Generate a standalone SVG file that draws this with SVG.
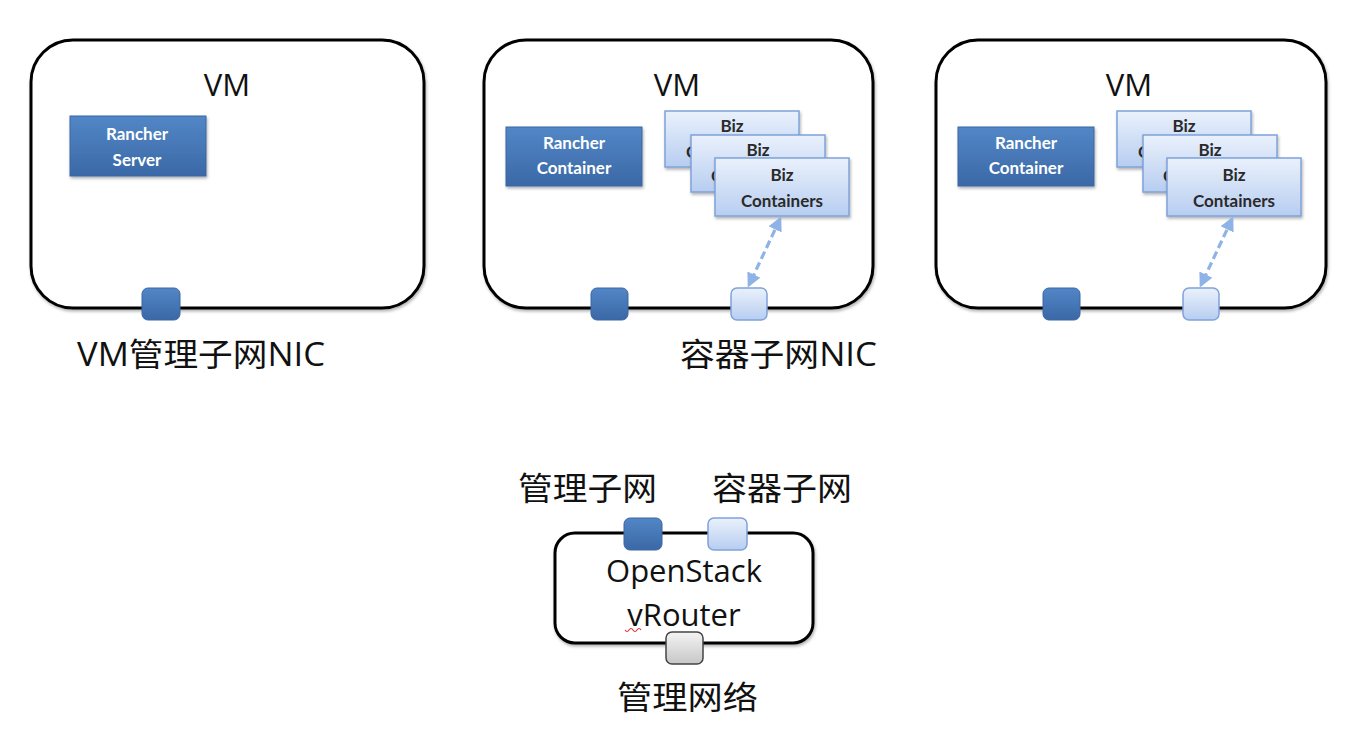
<svg xmlns="http://www.w3.org/2000/svg" width="1372" height="744" viewBox="0 0 1372 744">
<defs>
  <linearGradient id="gDark" x1="0" y1="0" x2="0" y2="1">
    <stop offset="0" stop-color="#5286c6"/>
    <stop offset="1" stop-color="#3b68a6"/>
  </linearGradient>
  <linearGradient id="gLight" x1="0" y1="0" x2="0" y2="1">
    <stop offset="0" stop-color="#eaf1fc"/>
    <stop offset="1" stop-color="#b7cdf0"/>
  </linearGradient>
  <linearGradient id="gGray" x1="0" y1="0" x2="0" y2="1">
    <stop offset="0" stop-color="#f4f4f4"/>
    <stop offset="1" stop-color="#c6c6c6"/>
  </linearGradient>
  <filter id="sh" x="-10%" y="-10%" width="130%" height="140%">
    <feDropShadow dx="1" dy="2" stdDeviation="1.5" flood-color="#000" flood-opacity="0.3"/>
  </filter>
  <marker id="ah" viewBox="0 0 10 10" refX="8" refY="5" markerWidth="4.5" markerHeight="4.5" orient="auto-start-reverse">
    <path d="M0,0 L10,5 L0,10 z" fill="#8fb3e6"/>
  </marker>
</defs>
<style>
  .vm { fill: #fff; stroke: #000; stroke-width: 3; }
  .dark { fill: url(#gDark); stroke: #3a66a3; stroke-width: 1; }
  .light { fill: url(#gLight); stroke: #7ea3da; stroke-width: 1.5; }
  .gray { fill: url(#gGray); stroke: #444; stroke-width: 1.5; }
  .big { font-family: "Open Sans", "Noto Sans CJK SC", sans-serif; font-size: 31px; fill: #111; }
  .cjk { font-family: "Open Sans", "Noto Sans CJK SC", sans-serif; font-size: 32px; fill: #111; }
  .wt { font-family: Lato, "Open Sans", sans-serif; font-size: 17px; fill: #fff; font-weight: bold; }
  .bt { font-family: Lato, "Open Sans", sans-serif; font-size: 17px; fill: #2a2a2a; font-weight: bold; }
  .conn { stroke: #8fb3e6; stroke-width: 3.2; stroke-dasharray: 8 4; fill: none; }
</style>

<g id="vm1">
  <rect class="vm" x="31" y="40" width="393" height="268" rx="42" filter="url(#sh)"/>
  <text class="big" x="227" y="96" text-anchor="middle">VM</text>
  <g id="rancher-server">
    <rect class="dark" x="70" y="116" width="136" height="60" filter="url(#sh)"/>
    <text class="wt" x="137" y="140" text-anchor="middle">Rancher</text>
    <text class="wt" x="137" y="166" text-anchor="middle">Server</text>
  </g>
  <rect id="vm1-nic" class="dark" x="142" y="288" width="38" height="32" rx="6"/>
</g>

<g id="vm2">
  <rect class="vm" x="484" y="40" width="389" height="268" rx="42" filter="url(#sh)"/>
  <text class="big" x="677" y="96" text-anchor="middle">VM</text>
  <g id="vm2-rancher">
    <rect class="dark" x="506" y="127" width="136" height="59" filter="url(#sh)"/>
    <text class="wt" x="574" y="149" text-anchor="middle">Rancher</text>
    <text class="wt" x="574" y="174" text-anchor="middle">Container</text>
  </g>
  <g id="vm2-biz">
    <rect class="light" x="665" y="111" width="134" height="56" filter="url(#sh)"/>
    <text class="bt" x="732" y="132" text-anchor="middle">Biz</text>
    <text class="bt" x="686" y="158">C</text>
    <rect class="light" x="691" y="135" width="134" height="57" filter="url(#sh)"/>
    <text class="bt" x="758" y="156" text-anchor="middle">Biz</text>
    <text class="bt" x="711" y="182">C</text>
    <rect class="light" x="715" y="158" width="134" height="58" filter="url(#sh)"/>
    <text class="bt" x="782" y="181" text-anchor="middle">Biz</text>
    <text class="bt" x="782" y="207" text-anchor="middle">Containers</text>
  </g>
  <rect id="vm2-nic-mgmt" class="dark" x="591" y="288" width="37" height="32" rx="6"/>
  <rect id="vm2-nic-ctr" class="light" x="731" y="288" width="36" height="32" rx="6"/>
</g>

<g id="vm3">
  <rect class="vm" x="936" y="40" width="390" height="268" rx="42" filter="url(#sh)"/>
  <text class="big" x="1129" y="96" text-anchor="middle">VM</text>
  <g id="vm3-rancher">
    <rect class="dark" x="958" y="127" width="136" height="59" filter="url(#sh)"/>
    <text class="wt" x="1026" y="149" text-anchor="middle">Rancher</text>
    <text class="wt" x="1026" y="174" text-anchor="middle">Container</text>
  </g>
  <g id="vm3-biz">
    <rect class="light" x="1117" y="111" width="134" height="56" filter="url(#sh)"/>
    <text class="bt" x="1184" y="132" text-anchor="middle">Biz</text>
    <text class="bt" x="1138" y="158">C</text>
    <rect class="light" x="1143" y="135" width="134" height="57" filter="url(#sh)"/>
    <text class="bt" x="1210" y="156" text-anchor="middle">Biz</text>
    <text class="bt" x="1163" y="182">C</text>
    <rect class="light" x="1167" y="158" width="134" height="58" filter="url(#sh)"/>
    <text class="bt" x="1234" y="181" text-anchor="middle">Biz</text>
    <text class="bt" x="1234" y="207" text-anchor="middle">Containers</text>
  </g>
  <rect id="vm3-nic-mgmt" class="dark" x="1043" y="288" width="37" height="32" rx="6"/>
  <rect id="vm3-nic-ctr" class="light" x="1183" y="288" width="36" height="32" rx="6"/>
</g>

<g id="router">
  <rect class="vm" x="555" y="533" width="258" height="110" rx="20" filter="url(#sh)"/>
  <text class="big" x="684" y="582" text-anchor="middle">OpenStack</text>
  <text class="big" x="684" y="626" text-anchor="middle">vRouter</text>
  <path d="M625,630 q2,3 4,0 t4,0 t4,0 t4,0" fill="none" stroke="#e03030" stroke-width="1.2"/>
  <rect id="router-nic-mgmt" class="dark" x="624" y="518" width="38" height="32" rx="6"/>
  <rect id="router-nic-ctr" class="light" x="708" y="518" width="39" height="32" rx="6"/>
  <rect id="router-nic-ext" class="gray" x="666" y="632" width="37" height="32" rx="6"/>
</g>

<g id="labels">
  <text class="cjk" x="77" y="366" textLength="248" lengthAdjust="spacingAndGlyphs">VM管理子网NIC</text>
  <text class="cjk" x="680" y="366" textLength="197" lengthAdjust="spacingAndGlyphs">容器子网NIC</text>
  <text class="cjk" x="518" y="500" textLength="139" lengthAdjust="spacingAndGlyphs">管理子网</text>
  <text class="cjk" x="712" y="500" textLength="140" lengthAdjust="spacingAndGlyphs">容器子网</text>
  <text class="cjk" x="617" y="709" textLength="141" lengthAdjust="spacingAndGlyphs">管理网络</text>
</g>

<g id="connectors">
  <line class="conn" x1="780" y1="219" x2="749" y2="285" marker-start="url(#ah)" marker-end="url(#ah)"/>
  <line class="conn" x1="1232" y1="219" x2="1201" y2="285" marker-start="url(#ah)" marker-end="url(#ah)"/>
</g>
</svg>
